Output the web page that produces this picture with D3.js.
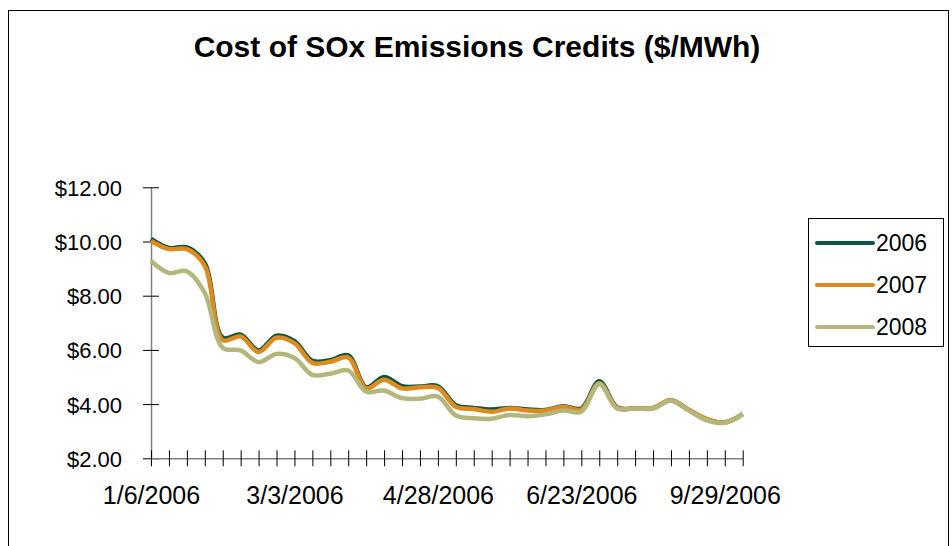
<!DOCTYPE html>
<html>
<head>
<meta charset="utf-8">
<script src="https://cdn.jsdelivr.net/npm/d3@7"></script>
<style>
  body { margin: 0; background: #fff; }
  text { font-family: Arial, "Liberation Sans", sans-serif; fill: #000; }
</style>
</head>
<body>
<script>
// weekly settlement dates (category axis)
var dates = ["1/6/2006", "1/13/2006", "1/20/2006", "1/27/2006", "2/3/2006", "2/10/2006", "2/17/2006",
  "2/24/2006", "3/3/2006", "3/10/2006", "3/17/2006", "3/24/2006", "3/31/2006", "4/7/2006", "4/14/2006",
  "4/21/2006", "4/28/2006", "5/5/2006", "5/12/2006", "5/19/2006", "5/26/2006", "6/2/2006", "6/9/2006",
  "6/16/2006", "6/23/2006", "7/7/2006", "7/21/2006", "8/4/2006", "8/18/2006", "9/1/2006", "9/15/2006",
  "9/22/2006", "9/29/2006", "10/6/2006"];

var v2006 = [10.10, 9.76, 9.78, 9.20, 6.45, 6.56, 5.98, 6.52, 6.32, 5.60, 5.62, 5.80, 4.62, 5.00, 4.66,
  4.65, 4.66, 3.96, 3.86, 3.80, 3.86, 3.80, 3.78, 3.92, 3.84, 4.84, 3.88, 3.84, 3.85, 4.14, 3.78, 3.44, 3.32, 3.63];
var v2007 = [10.02, 9.72, 9.72, 9.10, 6.36, 6.50, 5.92, 6.45, 6.25, 5.52, 5.56, 5.72, 4.58, 4.90, 4.58,
  4.62, 4.60, 3.90, 3.82, 3.72, 3.84, 3.76, 3.76, 3.90, 3.80, 4.77, 3.86, 3.84, 3.86, 4.15, 3.78, 3.45, 3.32, 3.63];
var v2008 = [9.28, 8.84, 8.90, 8.10, 6.08, 5.98, 5.55, 5.85, 5.70, 5.08, 5.12, 5.24, 4.46, 4.50, 4.22,
  4.20, 4.28, 3.58, 3.48, 3.46, 3.60, 3.55, 3.62, 3.76, 3.72, 4.74, 3.84, 3.84, 3.84, 4.13, 3.76, 3.40, 3.31, 3.63];

var seriesNames = ["2006", "2007", "2008"];
var yTicks = [2, 4, 6, 8, 10, 12];

var width = 952, height = 546;
var colors = ["#0d5443", "#dd8a1e", "#b4b67b"];

var svg = d3.select("body").append("svg")
    .attr("width", width)
    .attr("height", height);

// chart frame
svg.append("rect")
    .attr("x", 8.5).attr("y", 10.5)
    .attr("width", 940).attr("height", 600)
    .attr("fill", "#fff")
    .attr("stroke", "#000")
    .attr("stroke-width", 1);

svg.append("text")
    .attr("x", 477)
    .attr("y", 57)
    .attr("text-anchor", "middle")
    .style("font-size", "30px")
    .style("font-weight", "bold")
    .text("Cost of SOx Emissions Credits ($/MWh)");

var x = d3.scalePoint().domain(dates).range([151, 742.7]);
var y = d3.scaleLinear().domain([2, 12]).range([458.3, 187.3]);

// y axis
var yAxis = svg.append("g")
    .attr("transform", "translate(151,0)")
    .call(d3.axisLeft(y).tickValues(yTicks).tickSize(0).tickPadding(29)
      .tickFormat(function(d) { return "$" + d.toFixed(2); }));
yAxis.select(".domain").attr("stroke", "#808080").attr("stroke-width", 1.5);
yAxis.selectAll(".tick text").style("font-size", "22px").attr("dy", "0.36em");
yAxis.selectAll(".tick").append("line")
    .attr("x1", -8).attr("x2", 8)
    .attr("stroke", "#000");

// x axis
var xAxis = svg.append("g")
    .attr("transform", "translate(0,458.3)")
    .call(d3.axisBottom(x).tickSize(0).tickPadding(28)
      .tickFormat(function(d, i) { return i % 8 == 0 ? d : ""; }));
xAxis.select(".domain").attr("stroke", "#808080").attr("stroke-width", 1.5);
xAxis.selectAll(".tick text").style("font-size", "25px").attr("dy", "0.71em");
xAxis.selectAll(".tick").append("line")
    .attr("y1", -8).attr("y2", 8)
    .attr("stroke", "#000");

// lines (smoothed like the original)
var allSeries = [v2006, v2007, v2008];
var line = d3.line()
    .curve(d3.curveCatmullRom.alpha(0.5))
    .x(function(d, i) { return x(dates[i]); })
    .y(function(d) { return y(d); });

svg.selectAll(".series")
    .data(allSeries)
    .enter().append("path")
    .attr("class", "series")
    .attr("d", line)
    .attr("fill", "none")
    .attr("stroke", function(d, i) { return colors[i]; })
    .attr("stroke-width", 4.5)
    .attr("stroke-linejoin", "round");

// legend
var legend = svg.append("g");
legend.append("rect")
    .attr("x", 808.5).attr("y", 218.5)
    .attr("width", 135).attr("height", 128)
    .attr("fill", "#fff")
    .attr("stroke", "#000");

var ly = [243, 285, 327];
seriesNames.forEach(function(name, i) {
    legend.append("line")
        .attr("x1", 817).attr("x2", 873)
        .attr("y1", ly[i]).attr("y2", ly[i])
        .attr("stroke", colors[i])
        .attr("stroke-width", 4)
        .attr("stroke-linecap", "round");
    legend.append("text")
        .attr("x", 876)
        .attr("y", ly[i] + 8)
        .style("font-size", "23px")
        .text(name);
});
</script>
</body>
</html>
